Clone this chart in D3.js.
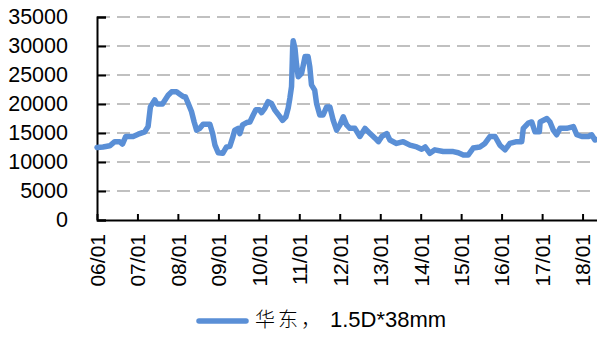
<!DOCTYPE html>
<html>
<head>
<meta charset="utf-8">
<script src="https://cdn.jsdelivr.net/npm/d3@7/dist/d3.min.js"></script>
<style>
  html, body { margin: 0; padding: 0; background: #fff; }
  svg { display: block; }
  text { font-family: "Liberation Sans", Arial, sans-serif; fill: #000; }
</style>
</head>
<body>
<svg id="chart" width="597" height="337"></svg>
<script>
// ---- data ----
const dates = [
  "2006-01-01","2006-02-24","2006-04-26","2006-06-10","2006-07-25","2006-08-19","2006-09-18","2006-11-23",
  "2007-01-08","2007-03-08","2007-04-07","2007-04-28","2007-06-06","2007-06-27","2007-08-15","2007-10-05",
  "2007-11-05","2007-12-20","2008-01-19","2008-02-18","2008-03-10","2008-04-03","2008-05-03","2008-05-27",
  "2008-06-18","2008-07-17","2008-08-16","2008-10-16","2008-11-10","2008-12-01","2008-12-30","2009-02-09",
  "2009-03-15","2009-04-14","2009-05-08","2009-05-29","2009-06-28","2009-07-13","2009-08-07","2009-09-13",
  "2009-10-12","2009-11-11","2009-12-05","2010-01-05","2010-01-26","2010-02-25","2010-03-25","2010-04-25",
  "2010-05-24","2010-07-03","2010-08-03","2010-09-02","2010-09-23","2010-10-08","2010-10-23","2010-11-02",
  "2010-11-07","2010-11-23","2010-12-06","2010-12-22","2011-01-22","2011-02-22","2011-03-21","2011-04-06",
  "2011-04-21","2011-05-20","2011-06-06","2011-07-05","2011-08-04","2011-09-05","2011-10-04","2011-11-03",
  "2011-12-04","2012-01-03","2012-02-02","2012-03-03","2012-04-02","2012-05-17","2012-07-01","2012-08-16",
  "2012-10-01","2012-11-15","2012-12-15","2013-01-15","2013-02-28","2013-03-29","2013-05-28","2013-07-27",
  "2013-09-26","2013-11-26","2014-01-10","2014-02-10","2014-03-25","2014-05-09","2014-07-23","2014-10-22",
  "2014-12-06","2015-01-21","2015-03-05","2015-04-20","2015-06-19","2015-08-04","2015-09-18","2015-11-03",
  "2015-12-17","2016-02-01","2016-03-16","2016-05-16","2016-07-01","2016-07-15","2016-08-29","2016-09-29",
  "2016-10-29","2016-12-07","2016-12-14","2017-02-13","2017-03-13","2017-04-12","2017-05-12","2017-06-12",
  "2017-08-11","2017-10-10","2017-11-10","2017-12-25","2018-02-23","2018-03-24","2018-04-23","2018-05-20"
];
const prices = [
  12500,12600,12800,13500,13500,13100,14400,14400,
  14800,15200,16100,19500,20700,20000,20000,21500,
  22100,22100,21700,21300,21200,20100,18700,16900,
  15500,15800,16500,16500,14900,12900,11600,11500,
  12600,12700,14100,15500,15800,14900,16400,16800,
  16900,18100,19000,19000,18500,19300,20400,20100,
  19000,18000,17200,17800,19300,21000,23000,29600,
  30900,29600,27000,24700,25300,28200,28200,26400,
  23300,22400,20100,18100,18100,19500,19500,17200,
  15500,16400,17800,16400,15800,15800,14400,15800,
  14900,14100,13500,14400,14900,13800,13200,13500,
  12900,12600,12200,12600,11500,12100,11800,11800,
  11600,11200,11200,12400,12600,13200,14400,14400,
  12900,12100,13200,13500,13500,15800,16700,16900,
  15200,15200,16900,17500,16900,15500,14700,15800,
  15800,16100,14700,14400,14400,14700,13800,13900
];
const xTickLabels = ["06/01","07/01","08/01","09/01","10/01","11/01","12/01","13/01","14/01","15/01","16/01","17/01","18/01"];
const yTicks = [0,5000,10000,15000,20000,25000,30000,35000];
const seriesNameCJK = "华东，";
const seriesNameLatin = "1.5D*38mm";

// ---- drawing ----
const svg = d3.select("#chart");
const parse = d3.timeParse("%Y-%m-%d");
const data = dates.map((d, i) => ({ date: parse(d), value: prices[i] }));
const tickDates = xTickLabels.map(s => parse("20" + s.slice(0, 2) + "-01-01"));

const plotL = 97, plotR = 597.4, plotT = 17, plotB = 220;
const x = d3.scaleTime().domain([parse("2006-01-01"), parse("2018-05-15")]).range([plotL, plotR]);
const y = d3.scaleLinear().domain([0, 35000]).range([plotB, plotT]);

// gridlines
svg.append("g")
  .selectAll("line")
  .data(yTicks.filter(v => v > 0))
  .join("line")
  .attr("x1", plotL).attr("x2", 597)
  .attr("y1", d => y(d)).attr("y2", d => y(d))
  .attr("stroke", "#c0c0c0")
  .attr("stroke-width", 2)
  .attr("stroke-dasharray", "13,7");

// y axis
const yAxis = svg.append("g")
  .attr("transform", `translate(${plotL},0)`)
  .call(d3.axisLeft(y).tickValues(yTicks).tickSize(-9).tickPadding(29).tickFormat(d3.format("d")));
yAxis.select(".domain").attr("stroke", "#000").attr("stroke-width", 2);
yAxis.selectAll(".tick line").attr("stroke", "#000").attr("stroke-width", 2);
yAxis.selectAll("text").style("font-size", "21.5px").attr("font-family", "Liberation Sans, Arial, sans-serif").attr("fill", "#000");

// x axis
const xAxis = svg.append("g")
  .attr("transform", `translate(0,${plotB})`)
  .call(d3.axisBottom(x).tickValues(tickDates).tickSize(-6).tickSizeOuter(0)
    .tickFormat((d, i) => xTickLabels[i]));
xAxis.select(".domain").attr("stroke", "#000").attr("stroke-width", 2);
xAxis.selectAll(".tick line").attr("stroke", "#000").attr("stroke-width", 2);
xAxis.selectAll("text")
  .style("font-size", "21px")
  .attr("font-family", "Liberation Sans, Arial, sans-serif")
  .attr("fill", "#000")
  .attr("transform", "rotate(-90)")
  .attr("text-anchor", "end")
  .attr("dy", "0.35em")
  .attr("y", 0)
  .attr("x", -14);

// series line
const line = d3.line().x(d => x(d.date)).y(d => y(d.value));
svg.append("path")
  .datum(data)
  .attr("fill", "none")
  .attr("stroke", "#5a8fd6")
  .attr("stroke-width", 5.5)
  .attr("stroke-linejoin", "round")
  .attr("stroke-linecap", "round")
  .attr("d", line);

// legend
const lg = svg.append("g").attr("transform", "translate(199,321)");
lg.append("line").attr("x1", 0).attr("x2", 47).attr("y1", 0).attr("y2", 0)
  .attr("stroke", "#5a8fd6").attr("stroke-width", 5.5).attr("stroke-linecap", "round");
const lt = lg.append("text").attr("x", 56).attr("y", 0).attr("dy", "0.36em");
lt.append("tspan")
  .style("font-size", "20px")
  .attr("font-family", "Noto Sans CJK SC, sans-serif")
  .attr("font-weight", 300)
  .attr("letter-spacing", "3px")
  .text(seriesNameCJK);
lt.append("tspan")
  .attr("dx", 6)
  .style("font-size", "22px")
  .attr("font-family", "Liberation Sans, Arial, sans-serif")
  .text(seriesNameLatin);
</script>
</body>
</html>
